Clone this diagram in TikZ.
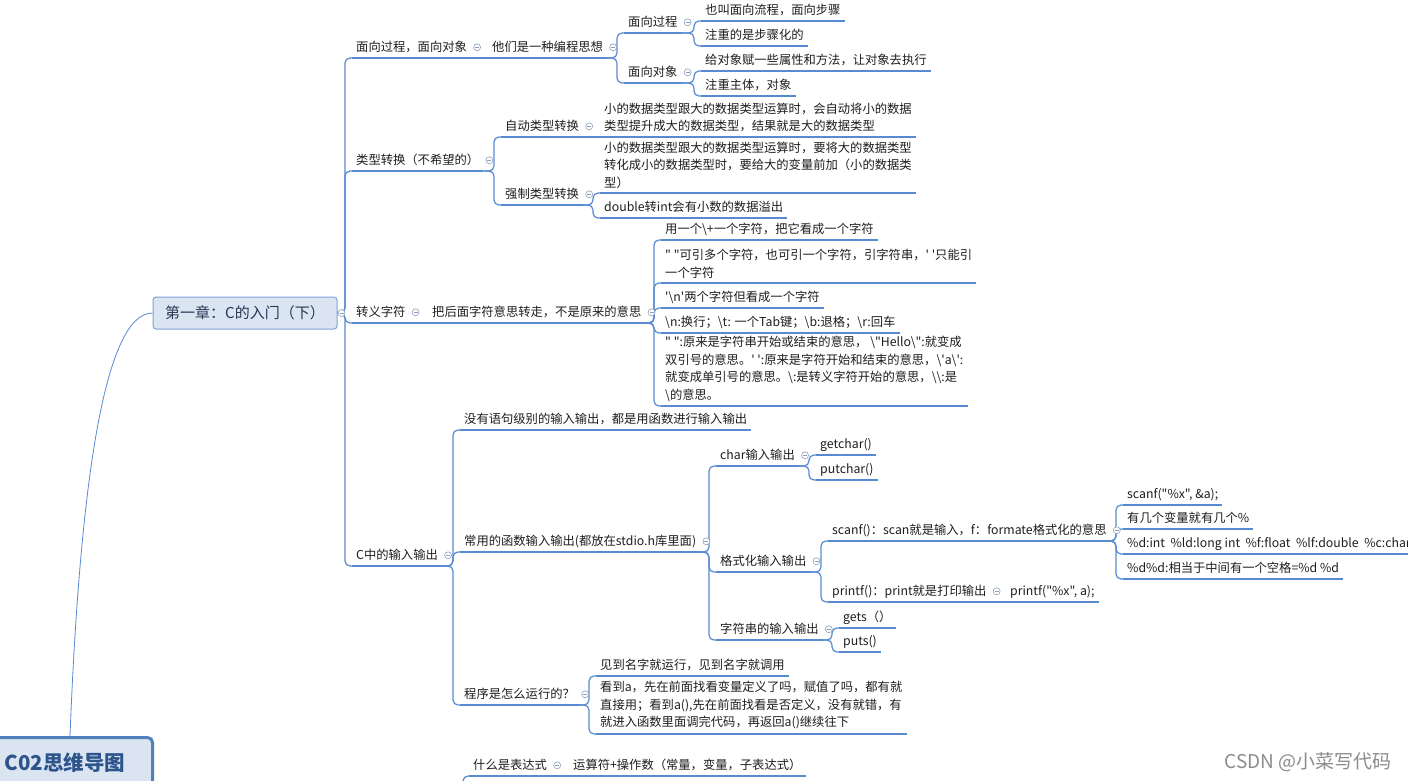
\documentclass[tikz,border=0pt]{standalone}
\usepackage{fontspec}
\newfontfamily\cjk{Noto Sans CJK SC}
\newcommand\myBS{\textbackslash}
\definecolor{linec}{RGB}{88,138,210}
\definecolor{circc}{RGB}{140,160,190}
\definecolor{textc}{RGB}{30,30,30}
\definecolor{rootfill}{RGB}{219,229,241}
\definecolor{rootdraw}{RGB}{126,163,215}
\definecolor{roottext}{RGB}{40,55,85}
\definecolor{cdraw}{RGB}{79,129,189}
\definecolor{ctext}{RGB}{46,84,140}
\newcommand\mmconn[2]{\path (#2.south west) ++(-7,0) coordinate (mmtmp); \draw[conn] (#1.south east) -- (mmtmp |- #1.south east) |- (#2.south west);}
\newcommand\rtconn[1]{\path (#1.south west) ++(-7,0) coordinate (mmtmp); \draw[conn] (root.east) -- (mmtmp |- root.east) |- (#1.south west);}
\begin{document}
\begin{tikzpicture}[x=1pt,y=-1pt,
 topic/.style={anchor=south west, inner xsep=4pt, inner ysep=4.5pt, text height=10pt, text depth=2pt, font=\cjk\fontsize{12.3}{17.5}\selectfont, text=textc},
 mtopic/.style={anchor=south west, inner xsep=4pt, inner ysep=4.5pt, align=left, font=\cjk\fontsize{12.3}{17.5}\selectfont, text=textc},
 uline/.style={draw=linec, line width=1.3pt},
 conn/.style={draw=linec, line width=1.2pt, rounded corners=5pt},
 fold/.style={circle, draw=circc, fill=white, line width=0.6pt, minimum size=7pt, inner sep=0pt, path picture={\draw[circc, line width=0.6pt] ([xshift=-2pt]path picture bounding box.center) -- ([xshift=2pt]path picture bounding box.center);}},
 rootbox/.style={draw=rootdraw, fill=rootfill, line width=1pt, rounded corners=3pt, minimum width=184pt, minimum height=32pt, inner sep=0pt, font=\cjk\fontsize{15}{18}\selectfont, text=roottext},
 cbox/.style={draw=cdraw, fill=rootfill, line width=3pt, rounded corners=5pt, text width=137pt, inner xsep=11pt, inner ysep=0pt, align=left, minimum height=50pt, font=\cjk\bfseries\fontsize{20.5}{23}\selectfont, text=ctext},
]
\useasboundingbox (0,0) rectangle (1408,781);
\clip (0,0) rectangle (1408,781);
\fill[white] (0,0) rectangle (1408,781);

% root and centre
\node[rootbox] (root) at (245,313) {第一章：C的入门（下）};
\node[cbox, anchor=north west] (c02) at (-8,736) {C02思维导图};
\coordinate (c02top) at (70,736);
\draw[linec, line width=0.8pt] (c02top) .. controls (80,480) and (105,313) .. (root.west);

% section A
\node[topic] (a1) at (352,58) {面向过程，面向对象};
\node[topic] (a2) at (488,58) {他们是一种编程思想};
\node[topic] (a3) at (624,33) {面向过程};
\node[topic] (a4) at (624,83) {面向对象};
\node[topic] (a31) at (701,21) {也叫面向流程，面向步骤};
\node[topic] (a32) at (701,46) {注重的是步骤化的};
\node[topic] (a41) at (701,71) {给对象赋一些属性和方法，让对象去执行};
\node[topic] (a42) at (701,96) {注重主体，对象};

% section B
\node[topic] (b1) at (352,171) {类型转换（不希望的）};
\node[topic] (b2) at (501,137) {自动类型转换};
\node[topic] (b3) at (501,205) {强制类型转换};
\node[mtopic] (b21) at (600,137) {小的数据类型跟大的数据类型运算时，会自动将小的数据\\类型提升成大的数据类型，结果就是大的数据类型};
\node[mtopic] (b31) at (600,193) {小的数据类型跟大的数据类型运算时，要将大的数据类型\\转化成小的数据类型时，要给大的变量前加（小的数据类\\型）};
\node[topic] (b32) at (600,218) {double转int会有小数的数据溢出};

% section C
\node[topic] (c1) at (352,323) {转义字符};
\node[topic] (c2) at (428,323) {把后面字符意思转走，不是原来的意思};
\node[topic] (c21) at (661,240) {用一个\myBS+一个字符，把它看成一个字符};
\node[mtopic] (c22) at (661,283) {" "可引多个字符，也可引一个字符，引字符串，' '只能引\\一个字符};
\node[topic] (c23) at (661,308) {'\myBS n'两个字符但看成一个字符};
\node[topic] (c24) at (661,333) {\myBS n:换行；\myBS t: 一个Tab键；\myBS b:退格；\myBS r:回车};
\node[mtopic] (c25) at (661,406) {" ":原来是字符串开始或结束的意思， \myBS"Hello\myBS":就变成\\双引号的意思。' ':原来是字符开始和结束的意思，\myBS'a\myBS':\\就变成单引号的意思。\myBS:是转义字符开始的意思，\myBS\myBS:是\\\myBS 的意思。};

% section D
\node[topic] (d1) at (352,566) {C中的输入输出};
\node[topic] (d2) at (460,430) {没有语句级别的输入输出，都是用函数进行输入输出};
\node[topic] (d3) at (460,552) {常用的函数输入输出(都放在stdio.h库里面)};
\node[topic] (d4) at (460,705) {程序是怎么运行的？};
\node[topic] (d31) at (716,466) {char输入输出};
\node[topic] (d311) at (816,455) {getchar()};
\node[topic] (d312) at (816,480) {putchar()};
\node[topic] (d32) at (716,572) {格式化输入输出};
\node[topic] (d321) at (828,541) {scanf()：scan就是输入，f：formate格式化的意思};
\node[topic] (d3211) at (1123,505) {scanf("\%x", \&a);};
\node[topic] (d3212) at (1123,529) {有几个变量就有几个\%};
\node[topic] (d3213) at (1123,554) {\%d:int~ \%ld:long int~ \%f:float~ \%lf:double~ \%c:char};
\node[topic] (d3214) at (1123,579) {\%d\%d:相当于中间有一个空格=\%d \%d};
\node[topic] (d322) at (828,602) {printf()：print就是打印输出};
\node[topic] (d3221) at (1006,602) {printf("\%x", a);};
\node[topic] (d33) at (716,640) {字符串的输入输出};
\node[topic] (d331) at (839,628) {gets（）};
\node[topic] (d332) at (839,652) {puts()};
\node[topic] (d41) at (596,676) {见到名字就运行，见到名字就调用};
\node[mtopic] (d42) at (596,734) {看到a，先在前面找看变量定义了吗，赋值了吗，都有就\\直接用；看到a(),先在前面找看是否定义，没有就错，有\\就进入函数里面调完代码，再返回a()继续往下};

% section E (cut off)
\node[topic] (e1) at (469,776) {什么是表达式};
\node[topic] (e2) at (569,776) {运算符+操作数（常量，变量，子表达式）};
\coordinate (eIn) at (463,795);

% underlines
\foreach \n in {a1,a2,a3,a4,a31,a32,a41,a42,b1,b2,b3,b21,b31,b32,c1,c2,c21,c22,c23,c24,c25,d1,d2,d3,d4,d31,d311,d312,d32,d321,d3211,d3212,d3213,d3214,d322,d3221,d33,d331,d332,d41,d42,e1,e2}
  \draw[uline] (\n.south west) -- (\n.south east);

% connectors
\rtconn{a1}\rtconn{b1}\rtconn{c1}\rtconn{d1}
\draw[conn] (a1.south east) -- (a2.south west);
\mmconn{a2}{a3}\mmconn{a2}{a4}
\mmconn{a3}{a31}\mmconn{a3}{a32}
\mmconn{a4}{a41}\mmconn{a4}{a42}
\mmconn{b1}{b2}\mmconn{b1}{b3}
\draw[conn] (b2.south east) -- (b21.south west);
\mmconn{b3}{b31}\mmconn{b3}{b32}
\draw[conn] (c1.south east) -- (c2.south west);
\mmconn{c2}{c21}\mmconn{c2}{c22}\mmconn{c2}{c23}\mmconn{c2}{c24}\mmconn{c2}{c25}
\mmconn{d1}{d2}\mmconn{d1}{d3}\mmconn{d1}{d4}
\mmconn{d3}{d31}\mmconn{d3}{d32}\mmconn{d3}{d33}
\mmconn{d31}{d311}\mmconn{d31}{d312}
\mmconn{d32}{d321}\mmconn{d32}{d322}
\mmconn{d321}{d3211}\mmconn{d321}{d3212}\mmconn{d321}{d3213}\mmconn{d321}{d3214}
\draw[conn] (d322.south east) -- (d3221.south west);
\mmconn{d33}{d331}\mmconn{d33}{d332}
\mmconn{d4}{d41}\mmconn{d4}{d42}
\draw[conn] (eIn) |- (e1.south west);
\draw[conn] (e1.south east) -- (e2.south west);

% fold markers
\node[fold] (f-root) at ([xshift=4pt]root.east) {};
\foreach \n in {a1,a2,a3,a4,b1,b2,b3,c1,c2,d1,d3,d4,d31,d32,d321,d322,d33,e1}
  \node[fold] (f-\n) at ([xshift=6pt]\n.east) {};

% watermark
\node[anchor=west, font=\cjk\fontsize{19}{21}\selectfont, text=black!45] (wm) at (1221,762) {CSDN @小菜写代码};
\end{tikzpicture}
\end{document}
